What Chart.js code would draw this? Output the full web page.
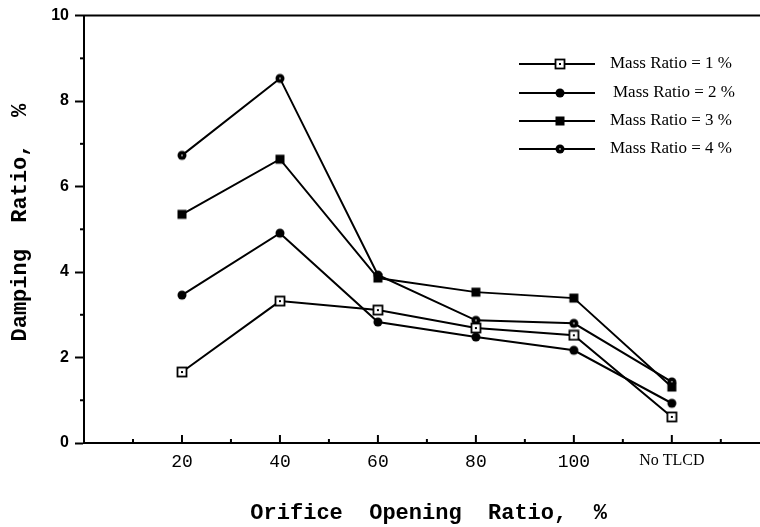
<!DOCTYPE html>
<html>
<head>
<meta charset="utf-8">
<script src="https://cdn.jsdelivr.net/npm/chart.js@4/dist/chart.umd.min.js"></script>
<style>
html,body{margin:0;background:#fff;overflow:hidden;}
#wrap{width:767px;height:527px;position:relative;}
</style>
</head>
<body>
<div id="wrap"><canvas id="grafico"></canvas></div>
<script>
// categorias do eixo x (posicao numerica e rotulo)
const xPos=[20,40,60,80,100,120];
const xLabels=["20","40","60","80","100","No TLCD"];
const yTicks=[0,2,4,6,8,10];
const seriesNames=["Mass Ratio = 1 %","Mass Ratio = 2 %","Mass Ratio = 3 %","Mass Ratio = 4 %"];
const mass1=[1.66,3.32,3.11,2.69,2.52,0.61];
const mass2=[3.46,4.91,2.83,2.48,2.17,0.93];
const mass3=[5.35,6.64,3.86,3.53,3.39,1.31];
const mass4=[6.73,8.53,3.93,2.87,2.80,1.43];

function mk(draw){let c=document.createElement("canvas");c.width=12;c.height=12;let g=c.getContext("2d");draw(g);return c;}
const mQuad=mk(g=>{g.fillStyle="#fff";g.fillRect(1.5,1.5,9,9);g.strokeStyle="#000";g.lineWidth=1.8;g.strokeRect(1.5,1.5,9,9);g.fillStyle="#000";g.fillRect(5,5,2,2);});
const mBola=mk(g=>{g.fillStyle="#000";g.beginPath();g.arc(6,6,4.5,0,Math.PI*2);g.fill();});
const mQuadCheio=mk(g=>{g.fillStyle="#000";g.fillRect(1.5,1.5,9,9);});
const mBolaPonto=mk(g=>{g.fillStyle="#000";g.beginPath();g.arc(6,6,4.5,0,Math.PI*2);g.fill();g.fillStyle="#fff";g.fillRect(5.3,5.3,1.4,1.4);});
const marcadores=[mQuad,mBola,mQuadCheio,mBolaPonto];
const valores=[mass1,mass2,mass3,mass4];

const datasets=valores.map((v,i)=>({
label:seriesNames[i],
data:v.map((y,j)=>({x:xPos[j],y:y})),
borderColor:"#000",borderWidth:2,
pointStyle:marcadores[i],pointRadius:5,
fill:false,tension:0
}));

const extras={
id:"extras",
afterDraw(chart){
let c=chart.ctx,a=chart.chartArea,sx=chart.scales.x,sy=chart.scales.y;
c.save();
c.strokeStyle="#000";c.lineWidth=2;
// linha superior
c.beginPath();c.moveTo(a.left-1,a.top);c.lineTo(a.right,a.top);c.stroke();
// ticks do eixo x (para dentro)
for(let v=10;v<=130;v+=10){
let px=sx.getPixelForValue(v);
let len=v%20==0?8:4;
c.beginPath();c.moveTo(px,a.bottom);c.lineTo(px,a.bottom-len);c.stroke();
}
// ticks menores do eixo y
for(let v=1;v<10;v+=2){
let py=sy.getPixelForValue(v);
c.beginPath();c.moveTo(a.left-4,py);c.lineTo(a.left,py);c.stroke();
}
// legenda
let linhas=[64,93,121,149];
c.font="17px 'Liberation Serif'";
c.fillStyle="#000";c.textBaseline="middle";c.textAlign="left";
seriesNames.forEach((n,i)=>{
let y=linhas[i];
c.beginPath();c.moveTo(519,y);c.lineTo(595,y);c.stroke();
c.drawImage(marcadores[i],560-6,y-6);
c.fillText(n,i==1?613:610,y);
});
c.restore();
}
};

new Chart(document.getElementById("grafico"),{
type:"line",
data:{datasets:datasets},
options:{
responsive:true,maintainAspectRatio:false,animation:false,devicePixelRatio:1,
layout:{padding:{top:15,right:0,left:0,bottom:0}},
plugins:{legend:{display:false},tooltip:{enabled:false}},
scales:{
x:{
type:"linear",min:0,max:138,
afterBuildTicks:s=>{s.ticks=xPos.map(v=>({value:v}));},
afterFit:s=>{s.height=84;s.paddingRight=0;},
grid:{display:false,drawTicks:false},
border:{display:true,color:"#000",width:2},
ticks:{
autoSkip:false,maxRotation:0,padding:8,color:"#000",
callback:(v,i)=>xLabels[i],
font:ctx=>ctx.index==5?{family:"Liberation Serif",size:16}:{family:"Liberation Mono",size:18}
},
title:{display:true,text:" Orifice  Opening  Ratio,  %",color:"#000",font:{family:"Liberation Mono",size:22,weight:"bold"},padding:{bottom:0}}
},
y:{
min:0,max:10,
afterBuildTicks:s=>{s.ticks=yTicks.map(v=>({value:v}));},
afterFit:s=>{s.width=84;},
grid:{display:true,drawOnChartArea:false,drawTicks:true,tickLength:9,tickColor:"#000",tickWidth:2},
border:{display:true,color:"#000",width:2},
ticks:{padding:6,color:"#000",font:{family:"Liberation Sans",size:16,weight:"bold"}},
title:{display:true,text:" Damping  Ratio,  %",color:"#000",font:{family:"Liberation Mono",size:22,weight:"bold"},padding:{top:7}}
}
}
},
plugins:[extras]
});
</script>
</body>
</html>
